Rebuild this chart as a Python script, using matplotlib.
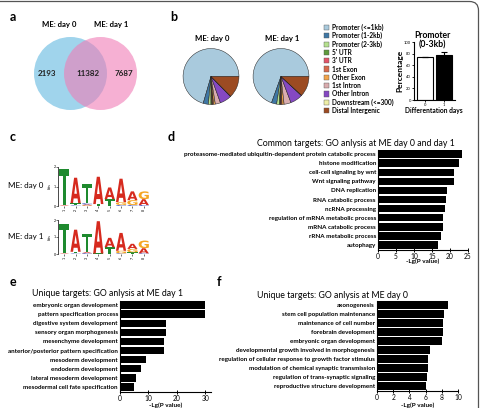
import numpy as np
import matplotlib
matplotlib.use("Agg")
import matplotlib.pyplot as plt
from matplotlib.patches import Circle, Rectangle, FancyBboxPatch, PathPatch
from matplotlib.textpath import TextPath
from matplotlib.font_manager import FontProperties
import matplotlib.transforms as mtransforms

plt.rcParams['font.family'] = ['Lato', 'DejaVu Sans']

# ---- data ----
venn_labels = ["ME: day 0", "ME: day 1"]
venn_counts = [2193, 11382, 7687]   # day0 only, both, day1 only

pie_titles = ["ME: day 0", "ME: day 1"]
pie_cats = ["Promoter (<=1kb)", "Promoter (1-2kb)", "Promoter (2-3kb)", "5' UTR", "3' UTR",
            "1st Exon", "Other Exon", "1st Intron", "Other Intron", "Downstream (<=300)",
            "Distal Intergenic"]
pie_day0 = [70.5, 3.0, 1.5, 0.6, 0.4, 0.5, 1.0, 3.0, 6.8, 0.2, 12.5]
pie_day1 = [69.5, 3.0, 1.5, 0.6, 0.4, 0.6, 1.2, 4.0, 7.2, 0.2, 11.8]
pie_colors = ["#a9cadd", "#3f77a4", "#b5e08e", "#5f9a3c", "#e2546a", "#d66a4d",
              "#f2a44a", "#d9acae", "#8548c2", "#eeeea6", "#9c4b22"]

prom_days = ["0", "1"]
prom_pct = [74, 77]
prom_err = [0, 6]

logo_rows = ["ME: day 0", "ME: day 1"]
# per position: letter -> bits
logo_day0 = [{"T": 1.85, "A": 0.03},
             {"A": 1.3, "T": 0.12, "C": 0.03},
             {"T": 1.0, "C": 0.06, "A": 0.05, "G": 0.03},
             {"A": 1.4, "T": 0.1},
             {"A": 0.6, "T": 0.35},
             {"A": 1.2, "G": 0.15, "C": 0.05},
             {"A": 0.45, "G": 0.25, "C": 0.05},
             {"G": 0.4, "A": 0.3, "C": 0.05}]
logo_day1 = [{"T": 1.75, "A": 0.03},
             {"A": 1.3, "T": 0.1, "C": 0.03},
             {"T": 1.1, "C": 0.05, "A": 0.05},
             {"A": 1.9, "T": 0.03},
             {"A": 0.55, "T": 0.4},
             {"A": 1.05, "G": 0.15, "C": 0.04},
             {"A": 0.3, "G": 0.2, "T": 0.1},
             {"G": 0.45, "A": 0.3, "C": 0.04}]
base_colors = {"A": "#d62a1e", "C": "#3a4fc0", "G": "#f5a623", "T": "#1e8a2e"}

common_terms = ["proteasome-mediated ubiquitin-dependent protein catabolic process",
                "histone modification", "cell-cell signaling by wnt", "Wnt signaling pathway",
                "DNA replication", "RNA catabolic process", "ncRNA processing",
                "regulation of mRNA metabolic process", "mRNA catabolic process",
                "rRNA metabolic process", "autophagy"]
common_vals = [23.3, 22.4, 21.1, 21.1, 19.1, 19.0, 18.7, 18.1, 18.0, 17.5, 16.7]

day1_terms = ["embryonic organ development", "pattern specification process",
              "digestive system development", "sensory organ morphogenesis",
              "mesenchyme development", "anterior/posterior pattern specification",
              "mesoderm development", "endoderm development",
              "lateral mesoderm development", "mesodermal cell fate specification"]
day1_vals = [30.0, 29.8, 16.1, 16.0, 15.6, 15.4, 9.3, 7.4, 5.6, 4.9]

day0_terms = ["axonogenesis", "stem cell population maintenance", "maintenance of cell number",
              "forebrain development", "embryonic organ development",
              "developmental growth involved in morphogenesis",
              "regulation of cellular response to growth factor stimulus",
              "modulation of chemical synaptic transmission",
              "regulation of trans-synaptic signaling", "reproductive structure development"]
day0_vals = [8.8, 8.3, 8.1, 8.1, 8.0, 6.5, 6.3, 6.25, 6.2, 6.1]

# ---- layout helpers (pixel coordinates, origin top-left) ----
W, H = 482, 408
fig = plt.figure(figsize=(W / 100, H / 100), dpi=100)


def px_axes(x0, y0, x1, y1):
    return fig.add_axes([x0 / W, 1 - y1 / H, (x1 - x0) / W, (y1 - y0) / H])


bg = fig.add_axes([0, 0, 1, 1])
bg.set_xlim(0, W)
bg.set_ylim(H, 0)
bg.axis("off")

# outer rounded frame
bg.add_patch(FancyBboxPatch((-30, 1.5), 508.5, 450, boxstyle="round,pad=0,rounding_size=9",
                            fc="none", ec="#555555", lw=0.9, clip_on=False))

# panel letters
for lab, x, y in [("a", 10, 17), ("b", 170, 17), ("c", 10, 137), ("d", 168, 137),
                  ("e", 10, 282), ("f", 217, 282)]:
    bg.text(x, y, lab, fontsize=9, fontweight="bold", va="center", ha="left")

# ---- a: venn ----
bg.add_patch(Circle((70.5, 73.5), 36.5, fc="#80c6e6", ec="none", alpha=0.75))
bg.add_patch(Circle((100.5, 73.5), 36.5, fc="#f07cb6", ec="none", alpha=0.6))
bg.text(59.5, 25, venn_labels[0], ha="center", va="center", fontsize=5.6, fontweight="bold")
bg.text(111.5, 25, venn_labels[1], ha="center", va="center", fontsize=5.6, fontweight="bold")
for x, v in zip([47, 88, 124], venn_counts):
    bg.text(x, 74, str(v), ha="center", va="center", fontsize=5.8, fontweight="bold",
            color="#222222")

# ---- b: pies ----
for cx, vals, title in [(211, pie_day0, pie_titles[0]), (281, pie_day1, pie_titles[1])]:
    pax = px_axes(cx - 28.5, 48, cx + 28.5, 105)
    pax.pie(vals, colors=pie_colors, startangle=0, counterclock=True, radius=1,
            wedgeprops=dict(edgecolor="#222222", linewidth=0.35))
    pax.set_xlim(-1.02, 1.02)
    pax.set_ylim(-1.02, 1.02)
    pax.set_aspect("equal")
    bg.text(cx + 1, 38, title, ha="center", va="center", fontsize=5.6, fontweight="bold")

for i, (cat, col) in enumerate(zip(pie_cats, pie_colors)):
    y = 27.5 + 8.3 * i
    bg.add_patch(Rectangle((324, y - 2.6), 5.2, 5.2, fc=col, ec="#555555", lw=0.3))
    bg.text(332, y, cat, fontsize=4.7, fontweight="bold", va="center", ha="left")

# promoter inset bar chart
bax = px_axes(414, 42, 455, 100)
bax.set_facecolor("none")
xpos = np.arange(len(prom_days))
bax.bar(xpos, prom_pct, width=0.8, color=["white", "black"], edgecolor="black", linewidth=0.8,
        yerr=prom_err, error_kw=dict(ecolor="black", elinewidth=0.8, capsize=2, capthick=0.8))
bax.set_xlim(-0.55, 1.55)
bax.set_ylim(0, 100)
bax.set_yticks([0, 20, 40, 60, 80, 100])
bax.set_xticks(xpos)
bax.set_xticklabels(prom_days)
bax.tick_params(labelsize=3, length=1.5, width=0.6, pad=0.8)
for s in ["top", "right"]:
    bax.spines[s].set_visible(False)
for s in ["left", "bottom"]:
    bax.spines[s].set_linewidth(0.8)
bax.set_ylabel("Percentage", fontsize=6, fontweight="bold", labelpad=0.5)
bg.text(434, 110, "Differentation days", ha="center", va="center", fontsize=4.8,
        fontweight="bold")
bg.text(432, 35.5, "Promoter", ha="center", va="center", fontsize=6.2, fontweight="bold",
        zorder=10)
bg.text(432, 44.5, "(0-3kb)", ha="center", va="center", fontsize=6.2, fontweight="bold",
        zorder=10)
bg.set_zorder(5)
bg.patch.set_visible(False)

# ---- c: sequence logos ----
letter_font = FontProperties(family="DejaVu Sans", weight="bold")


def draw_letter(ax, ch, x, y, w, h):
    tp = TextPath((0, 0), ch, size=1, prop=letter_font)
    bb = tp.get_extents()
    tr = (mtransforms.Affine2D().translate(-bb.x0, -bb.y0)
          .scale(w / bb.width, h / bb.height).translate(x - w / 2, y))
    ax.add_patch(PathPatch(tr.transform_path(tp), fc=base_colors[ch], ec="none"))


for (y0, y1), data, name in [((167, 206), logo_day0, logo_rows[0]),
                             ((220, 254), logo_day1, logo_rows[1])]:
    lax = px_axes(58, y0, 150, y1)
    for pos, col in enumerate(data, start=1):
        base = 0.0
        for ch, hgt in sorted(col.items(), key=lambda kv: kv[1]):
            draw_letter(lax, ch, pos, base, 0.9, hgt)
            base += hgt
    lax.set_xlim(0.45, 8.55)
    lax.set_ylim(0, 2)
    lax.set_yticks([0, 1, 2])
    lax.set_xticks(range(1, 9))
    lax.tick_params(labelsize=2.6, length=1.2, width=0.4, pad=0.6)
    plt.setp(lax.get_xticklabels(), rotation=90)
    lax.spines["left"].set_linewidth(0.5)
    for s in ["top", "right", "bottom"]:
        lax.spines[s].set_visible(False)
    lax.set_ylabel("bits", fontsize=2.6, labelpad=1)
    bg.text(8, (y0 + y1) / 2 - 1, name, ha="left", va="center", fontsize=5.8)


# ---- d, e, f: GO bar charts ----
def go_bars(rect, terms, vals, xmax, ticks, label_y):
    ax = px_axes(*rect)
    y = np.arange(len(terms))
    ax.barh(y, vals, height=0.82, color="black")
    ax.set_ylim(len(terms) - 0.5, -0.5)
    ax.set_xlim(0, xmax)
    ax.set_yticks(y)
    ax.set_yticklabels(terms, fontsize=4.5, fontweight="bold")
    ax.set_xticks(ticks)
    ax.tick_params(axis="y", length=0, pad=1.5)
    ax.tick_params(axis="x", labelsize=4.8, length=2.5, width=0.7, direction="inout", pad=1)
    for s in ["top", "right"]:
        ax.spines[s].set_visible(False)
    for s in ["left", "bottom"]:
        ax.spines[s].set_linewidth(0.8)
    bg.text((rect[0] + rect[2]) / 2, label_y, "-Lg(P value)", ha="center", va="center",
            fontsize=4.6, fontweight="bold")
    return ax


go_bars((378, 149.5, 468, 249.5), common_terms, common_vals, 25, [0, 5, 10, 15, 20, 25], 261)
bg.text(356, 143, "Common targets: GO anlysis at ME day 0 and day 1", ha="center",
        va="center", fontsize=6.3)

go_bars((120, 300.5, 211, 391.5), day1_terms, day1_vals, 32, [0, 10, 20, 30], 405)
bg.text(108, 294, "Unique targets: GO anlysis at ME day 1", ha="center", va="center",
        fontsize=6.3)

go_bars((377, 300.5, 458, 390.5), day0_terms, day0_vals, 10, [0, 2, 4, 6, 8, 10], 405)
bg.text(257, 295, "Unique targets: GO anlysis at ME day 0", ha="left", va="center",
        fontsize=6.3)

fig.savefig("out.png", dpi=100)
plt.close(fig)
